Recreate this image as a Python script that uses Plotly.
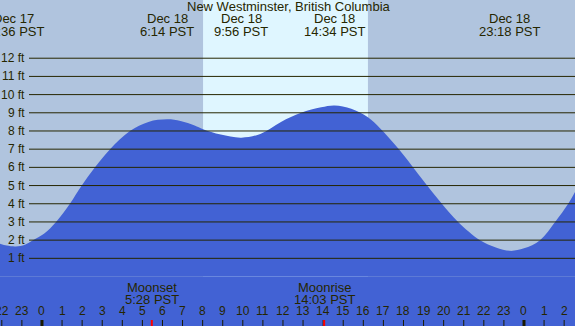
import plotly.graph_objects as go

# ---- data ----
# tide curve samples: hours relative to Dec 18 00:00 PST, height in ft
tide_hours = [-2.09, -1.75, -1.3, -0.85, -0.45, 0.1, 0.70, 1.39, 1.98, 2.64, 3.39, 4.38,
              5.3, 6.23, 6.9, 7.6, 8.02, 8.9, 9.93, 10.9, 11.9, 12.9, 13.9, 14.57,
              15.4, 16.23, 16.83, 17.73, 18.38, 19.07, 19.87, 20.72, 21.81, 22.6,
              23.31, 24.0, 24.80, 25.55, 26.20, 26.54]
tide_ft = [1.80, 1.70, 1.65, 1.75, 2.0, 2.35, 3.0, 4.0, 5.0, 6.0, 7.0, 8.0,
           8.5, 8.64, 8.55, 8.3, 8.1, 7.8, 7.63, 7.85, 8.5, 9.0, 9.3, 9.4,
           9.22, 8.75, 8.15, 7.05, 6.15, 5.15, 4.05, 3.0, 2.0, 1.6,
           1.41, 1.55, 2.0, 3.0, 4.0, 4.65]

extreme_hours = [-1.4, 6.23, 9.93, 14.57, 23.3]
extreme_dates = ["Dec 17", "Dec 18", "Dec 18", "Dec 18", "Dec 18"]
extreme_times = ["22:36 PST", "6:14 PST", "9:56 PST", "14:34 PST", "23:18 PST"]

sunrise_h = 8.02
sunset_h = 16.23

moon_hours = [5.47, 14.05]
moon_events = ["Moonset", "Moonrise"]
moon_times = ["5:28 PST", "14:03 PST"]

hour_ticks = list(range(-2, 27))
hour_labels = [str(h % 24) for h in hour_ticks]

ft_levels = list(range(1, 13))
ft_labels = [f"{v} ft" for v in ft_levels]

title = "New Westminster, British Columbia"

# ---- styles ----
NIGHT = "#b0c4de"
DAY = "#dff6ff"
WATER = "#4262d4"
INK = "#262600"
FONT = "Liberation Sans, Arial, sans-serif"
W, H = 575, 326

X_RANGE = [-2.09, 26.54]
Y_RANGE = [-2.72, 15.2]

fig = go.Figure()
fig.add_trace(go.Scatter(x=tide_hours, y=tide_ft, mode="lines", line=dict(width=0, color=WATER, shape="spline"),
                         fill="tozeroy", fillcolor=WATER, hoverinfo="skip", showlegend=False))

shapes = []
# daylight band
shapes.append(dict(type="rect", xref="x", yref="paper", x0=sunrise_h, x1=sunset_h, y0=0, y1=1,
                   fillcolor=DAY, line=dict(width=0), layer="below"))
# water below zero
shapes.append(dict(type="rect", xref="paper", yref="y", x0=0, x1=1, y0=Y_RANGE[0] - 1, y1=0,
                   fillcolor=WATER, line=dict(width=0), layer="below"))
# horizontal ft lines
for v in ft_levels:
    shapes.append(dict(type="line", xref="paper", yref="y", x0=29 / W, x1=1, y0=v, y1=v,
                       line=dict(color=INK, width=1), layer="above"))
# hour ticks
for h in hour_ticks:
    w = 3 if h % 24 == 0 else 1
    shapes.append(dict(type="line", xref="x", yref="paper", x0=h, x1=h, y0=0, y1=6 / H,
                       line=dict(color="#1a1a00", width=w), layer="above"))
for h in moon_hours:
    shapes.append(dict(type="line", xref="x", yref="paper", x0=h, x1=h, y0=0, y1=6 / H,
                       line=dict(color="#ff0000", width=2), layer="above"))


def label(text, x, ypx, xref="x", size=13, xanchor="center", yref="paper", y=None):
    return dict(text=text, xref=xref, yref=yref, x=x, y=(1 - ypx / H) if y is None else y,
                xanchor=xanchor, yanchor="middle", showarrow=False,
                font=dict(family=FONT, size=size, color=INK))


ann = [label(title, 289 / W, 7, xref="paper")]
for h, d, t in zip(extreme_hours, extreme_dates, extreme_times):
    ann.append(label(d, h, 18))
    ann.append(label(t, h, 31))
for v, t in zip(ft_levels, ft_labels):
    ann.append(label(t, 27 / W, 0, xref="paper", size=12, xanchor="right", yref="y", y=v))
for h, t in zip(hour_ticks, hour_labels):
    ann.append(label(t, h, 311, size=12))
for h, e, t in zip(moon_hours, moon_events, moon_times):
    ann.append(label(e, h, 287))
    ann.append(label(t, h, 299))

fig.update_layout(
    width=W, height=H, margin=dict(l=0, r=0, t=0, b=0),
    paper_bgcolor=NIGHT, plot_bgcolor=NIGHT,
    xaxis=dict(range=X_RANGE, visible=False, fixedrange=True),
    yaxis=dict(range=Y_RANGE, visible=False, fixedrange=True),
    shapes=shapes, annotations=ann, showlegend=False,
)

fig.write_html("out.html", config={"displayModeBar": False})

# remove the default browser page margin so the chart fills the window
with open("out.html", encoding="utf-8") as f:
    html = f.read()
html = html.replace("<head>", '<head><style>html,body{margin:0;padding:0;overflow:hidden;}</style>', 1)
with open("out.html", "w", encoding="utf-8") as f:
    f.write(html)
